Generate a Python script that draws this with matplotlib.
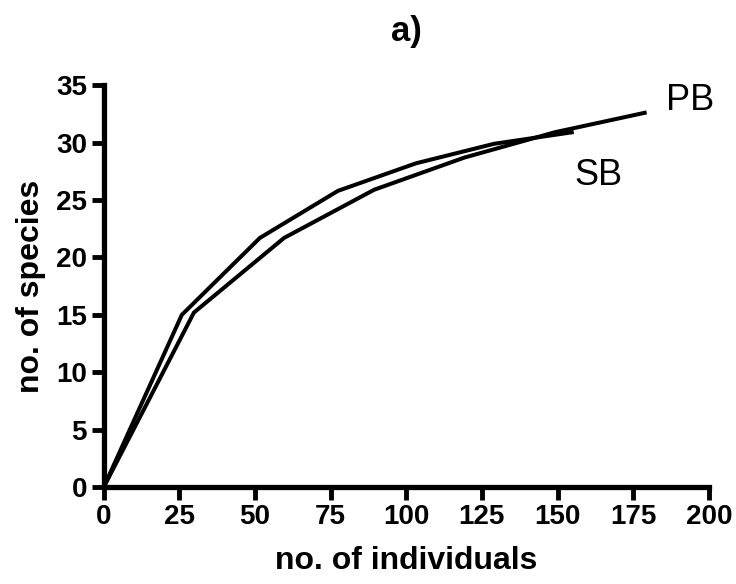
import matplotlib
matplotlib.use("Agg")
import matplotlib.pyplot as plt

# rarefaction curves
sb_individuals = [0, 25.8, 51.6, 77.4, 103.2, 129.0, 154.7]
sb_species = [0, 15.0, 21.7, 25.8, 28.2, 29.9, 30.9]
pb_individuals = [0, 29.8, 59.6, 89.4, 119.2, 149.0, 178.8]
pb_species = [0, 15.2, 21.7, 25.9, 28.7, 30.9, 32.6]

x_ticks = [0, 25, 50, 75, 100, 125, 150, 175, 200]
y_ticks = [0, 5, 10, 15, 20, 25, 30, 35]

plt.rcParams["font.family"] = ["Liberation Sans", "DejaVu Sans"]

fig = plt.figure(figsize=(7.36, 5.84), dpi=100)
ax = fig.add_axes([0.141, 0.166, 0.822, 0.688])

ax.plot(sb_individuals, sb_species, color="black", lw=2.9, solid_joinstyle="miter")
ax.plot(pb_individuals, pb_species, color="black", lw=2.9, solid_joinstyle="miter")

ax.text(185.8, 33.7, "PB", fontsize=26, va="center", ha="left")
ax.text(155.7, 27.1, "SB", fontsize=26, va="center", ha="left")

ax.set_xlim(0, 200)
ax.set_ylim(0, 35)
ax.set_xticks(x_ticks)
ax.set_yticks(y_ticks)
ax.tick_params(direction="out", length=9, width=3.5, labelsize=20, pad=3)
for lab in ax.get_xticklabels() + ax.get_yticklabels():
    lab.set_fontweight("bold")

for side in ("top", "right"):
    ax.spines[side].set_visible(False)
for side in ("left", "bottom"):
    ax.spines[side].set_linewidth(3.8)

ax.set_xlabel("no. of individuals", fontsize=23, fontweight="bold", labelpad=12)
ax.set_ylabel("no. of species", fontsize=23, fontweight="bold", labelpad=7)
ax.set_title("a)", fontsize=25, fontweight="bold", pad=32)

fig.savefig("out.png", dpi=100)
